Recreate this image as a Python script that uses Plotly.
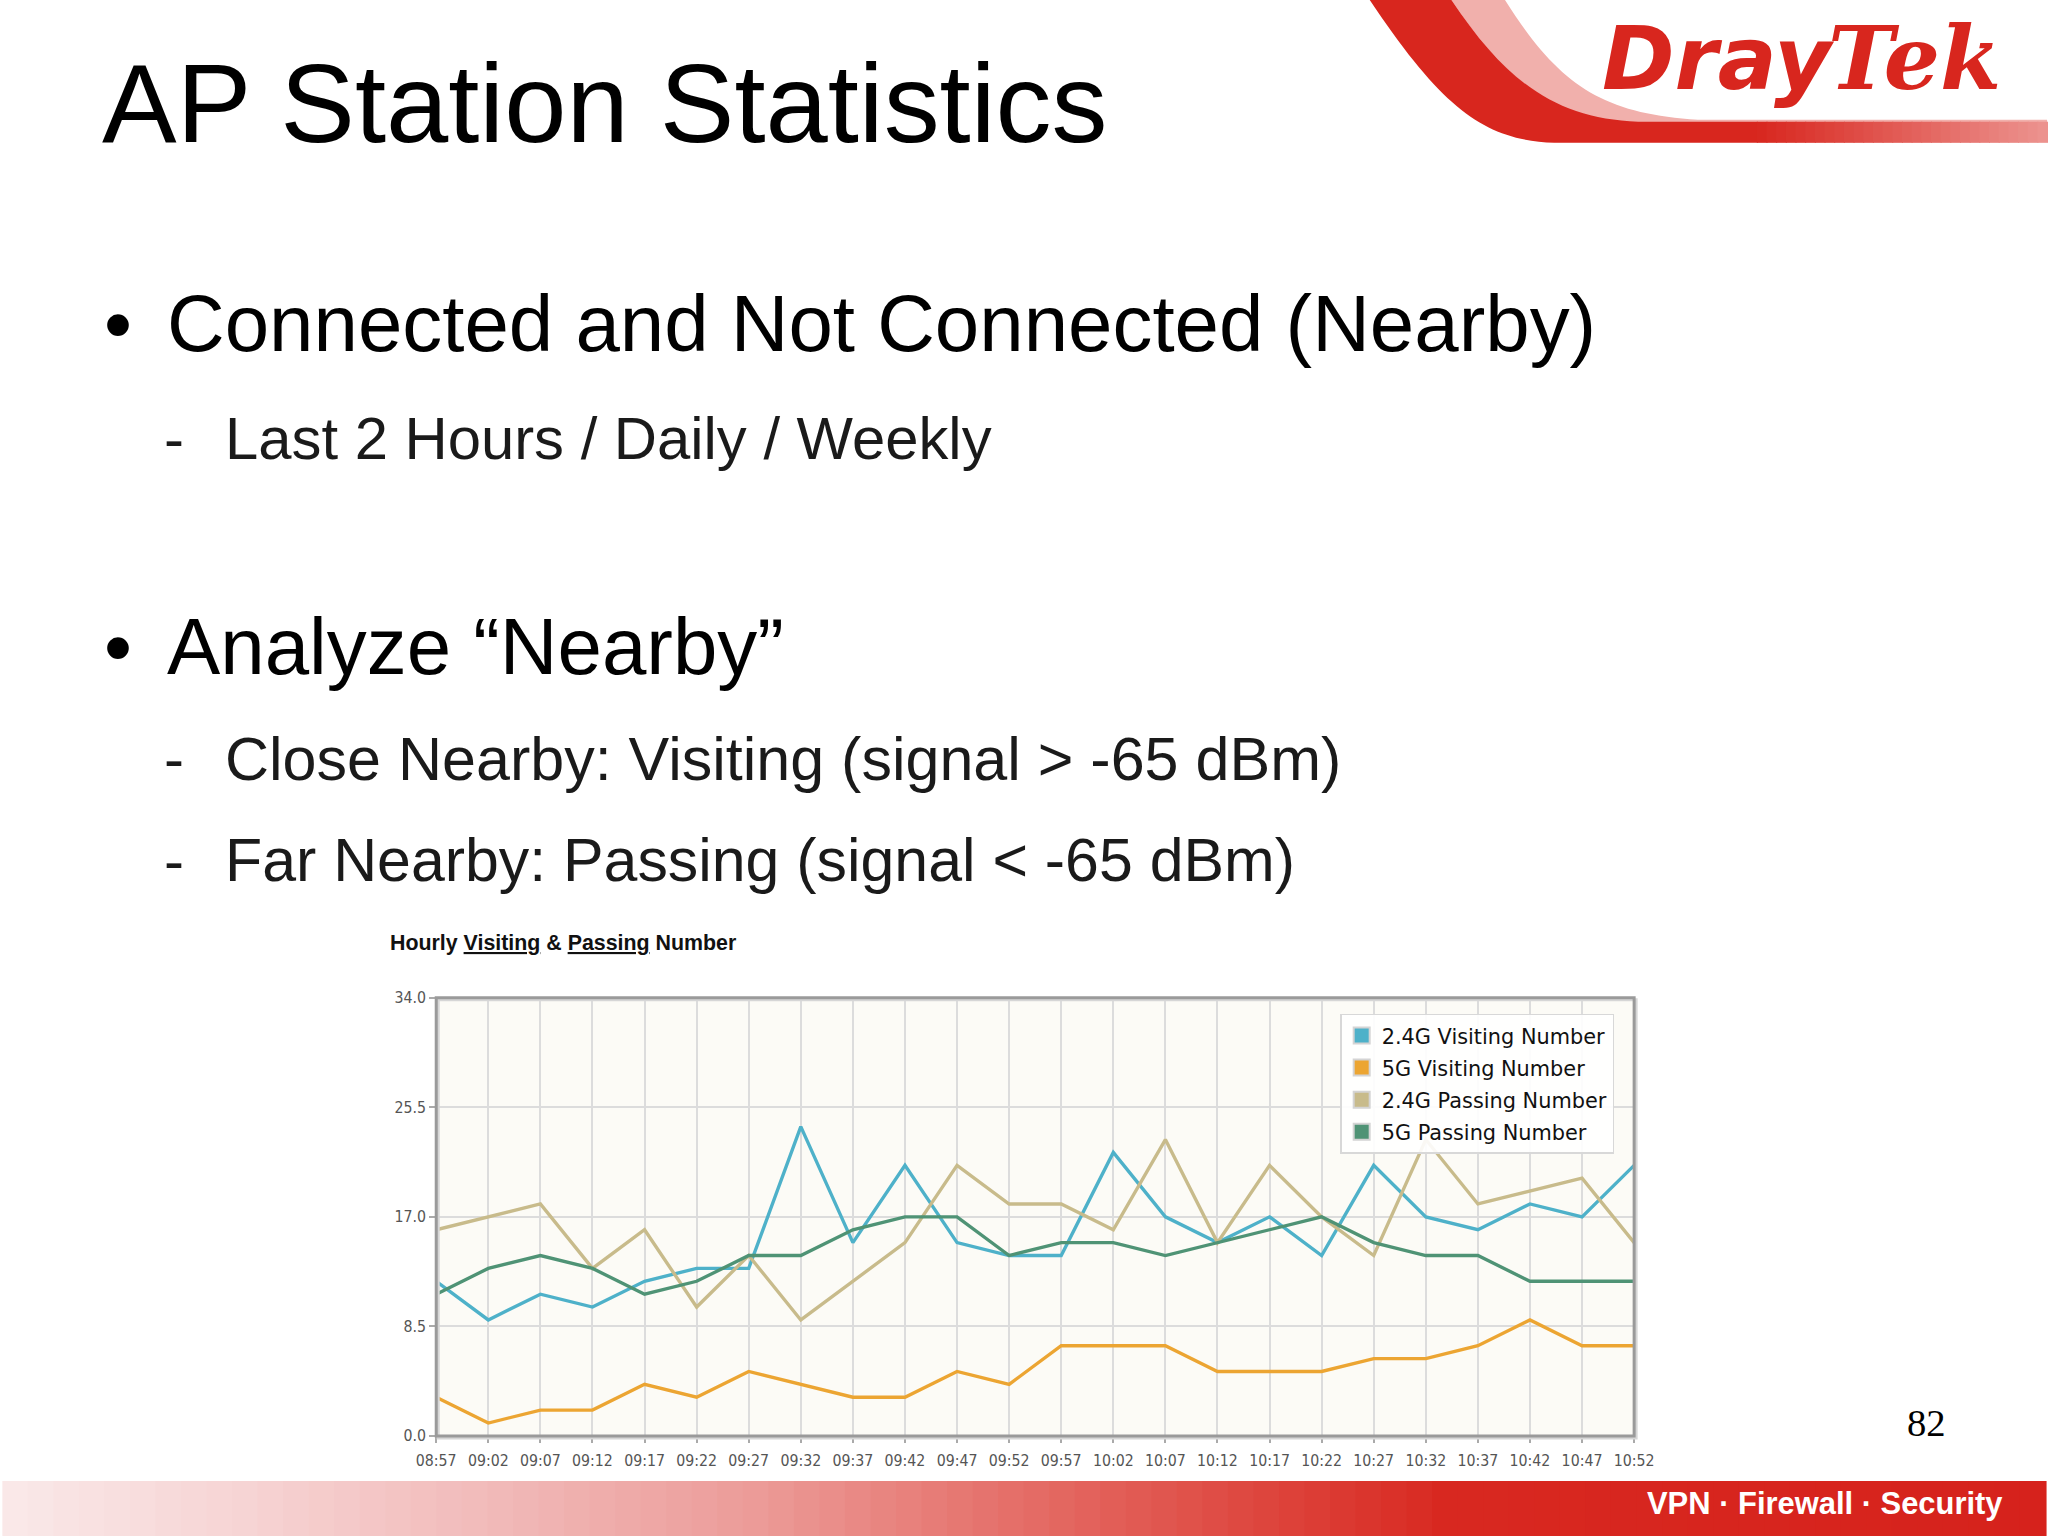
import plotly.graph_objects as go

# ---------------- data ----------------
times = ["08:57", "09:02", "09:07", "09:12", "09:17", "09:22", "09:27", "09:32",
         "09:37", "09:42", "09:47", "09:52", "09:57", "10:02", "10:07", "10:12",
         "10:17", "10:22", "10:27", "10:32", "10:37", "10:42", "10:47", "10:52"]
visit_24 = [12, 9, 11, 10, 12, 13, 13, 24, 15, 21, 15, 14, 14, 22, 17, 15, 17, 14, 21, 17, 16, 18, 17, 21]
visit_5 = [3, 1, 2, 2, 4, 3, 5, 4, 3, 3, 5, 4, 7, 7, 7, 5, 5, 5, 6, 6, 7, 9, 7, 7]
pass_24 = [16, 17, 18, 13, 16, 10, 14, 9, 12, 15, 21, 18, 18, 16, 23, 15, 21, 17, 14, 23, 18, 19, 20, 15]
pass_5 = [11, 13, 14, 13, 11, 12, 14, 14, 16, 17, 17, 14, 15, 15, 14, 15, 16, 17, 15, 14, 14, 12, 12, 12]
series_names = ["2.4G Visiting Number", "5G Visiting Number", "2.4G Passing Number", "5G Passing Number"]
series_colors = ["#4eb1c9", "#eca532", "#c8bb8b", "#4f9375"]
y_ticks = [0, 8.5, 17, 25.5, 34]

W, H = 2048, 1536
# the photographed page appears slightly inset/scaled; compensate so the picture lines up
S, OX, OY = 0.983, 17.7, 12.8


def px(x):
    return ((x - OX) / S) / W


def py(y):
    return 1 - ((y - OY) / S) / H


def sz(v):
    return v / S


def path(points_cmds):
    out = []
    for cmd, pts in points_cmds:
        if cmd == "Z":
            out.append("Z")
            continue
        coords = " ".join(f"{px(x):.5f},{py(y):.5f}" for x, y in pts)
        out.append(f"{cmd} {coords}")
    return " ".join(out)


def mix(c1, c2, t):
    return "rgb(%d,%d,%d)" % tuple(round(a + (b - a) * t) for a, b in zip(c1, c2))


fig = go.Figure()
for name, vals, col in zip(series_names, [visit_24, visit_5, pass_24, pass_5], series_colors):
    fig.add_trace(go.Scatter(x=times, y=vals, mode="lines", name=name,
                             line=dict(color=col, width=sz(3.3)), showlegend=False, hoverinfo="skip"))
for name, col in zip(series_names, series_colors):
    fig.add_trace(go.Scatter(x=[times[0]], y=[None], mode="markers", name=name, legendgroup=name,
                             marker=dict(symbol="square", size=sz(20), color=col,
                                         line=dict(color="#d4d4d4", width=2))))

shapes = []
# bottom gradient band
stops = [(0, (250, 233, 233)), (250, (246, 211, 211)), (500, (241, 185, 184)),
         (750, (236, 156, 153)), (1000, (229, 113, 107)), (1250, (222, 72, 64)),
         (1450, (216, 40, 32)), (2048, (214, 34, 28))]


def grad(x):
    for (t0, c0), (t1, c1) in zip(stops[:-1], stops[1:]):
        if t0 <= x <= t1:
            return mix(c0, c1, (x - t0) / (t1 - t0))
    return mix(stops[-1][1], stops[-1][1], 0)


n = 80
for i in range(n):
    x0 = 2048 * i / n
    x1 = 2048 * (i + 1) / n + 1.5
    shapes.append(dict(type="rect", xref="paper", yref="paper", x0=px(x0), x1=px(x1),
                       y0=py(1540), y1=py(1478), line=dict(width=0),
                       fillcolor=grad((x0 + x1) / 2), layer="below"))

# logo swoosh
red = (216, 38, 30)
shapes.append(dict(type="path", xref="paper", yref="paper", layer="below",
                   path=path([("M", [(1447, -5)]), ("L", [(1501, -5)]),
                              ("C", [(1556, 84), (1598, 117), (1700, 123)]),
                              ("L", [(2050, 123)]), ("L", [(2050, 130)]), ("L", [(1640, 130)]),
                              ("C", [(1556, 122), (1505, 84), (1447, -5)]), ("Z", [])]),
                   fillcolor="rgb(241,176,172)", line=dict(width=0)))
shapes.append(dict(type="path", xref="paper", yref="paper", layer="below",
                   path=path([("M", [(1365, -5)]), ("L", [(1447, -5)]),
                              ("C", [(1505, 84), (1556, 122), (1640, 125)]),
                              ("L", [(1760, 125)]), ("L", [(1760, 146)]), ("L", [(1556, 146)]),
                              ("C", [(1486, 143), (1444, 114), (1365, -5)]), ("Z", [])]),
                   fillcolor="rgb(216,38,30)", line=dict(width=0)))
m = 30
for i in range(m):
    x0 = 1759 + (2050 - 1759) * i / m
    x1 = 1759 + (2050 - 1759) * (i + 1) / m + 1
    shapes.append(dict(type="rect", xref="paper", yref="paper", layer="below",
                       x0=px(x0), x1=px(x1), y0=py(146), y1=py(125), line=dict(width=0),
                       fillcolor=mix(red, (236, 148, 144), (i + 0.5) / m)))

# chart frame
x_l, x_r, y_t, y_b = 435, 1636, 997, 1433
shapes.append(dict(type="rect", xref="paper", yref="paper", x0=px(x_l + 2), x1=px(x_r + 2),
                   y0=py(y_b + 2), y1=py(y_t + 2), line=dict(color="#d6d6d6", width=3), layer="above"))
shapes.append(dict(type="rect", xref="paper", yref="paper", x0=px(x_l), x1=px(x_r),
                   y0=py(y_b), y1=py(y_t), line=dict(color="#9a9a9a", width=3), layer="above"))

ann = []


def text(t, x, y, size, color="#000", family="Liberation Sans", anchor="left"):
    ann.append(dict(text=t, x=px(x), y=py(y), xref="paper", yref="paper", showarrow=False,
                    xanchor=anchor, yanchor="middle",
                    font=dict(family=family, size=sz(size), color=color)))


text("AP Station Statistics", 98, 107, 110)
text("•", 100, 327, 78.5)
text("Connected and Not Connected (Nearby)", 163, 326, 78.5)
text("-", 160, 440, 59, "#1a1a1a")
text("Last 2 Hours / Daily / Weekly", 221, 440, 58.8, "#1a1a1a")
text("•", 100, 648, 78.5)
text("Analyze “Nearby”", 163, 647, 78.5)
text("-", 160, 759, 59, "#1a1a1a")
text("Close Nearby: Visiting (signal &gt; -65 dBm)", 221, 759, 60, "#1a1a1a")
text("-", 160, 860, 59, "#1a1a1a")
text("Far Nearby: Passing (signal &lt; -65 dBm)", 221, 860, 59.8, "#1a1a1a")
text("<b>Hourly <u>Visiting</u> &amp; <u>Passing</u> Number</b>", 387, 942, 21, "#111")
text("82", 1929, 1420, 38, "#000", "Liberation Serif", "center")
text("<b>VPN · Firewall · Security</b>", 2008, 1500, 30.4, "#ffffff", "Liberation Sans", "right")
text("<b><i>Dray</i></b>", 1602, 63, 86, "rgb(216,38,30)", "DejaVu Sans")
text("<b><i>Tek</i></b>", 1828, 62, 87, "rgb(216,38,30)", "DejaVu Serif")

tickfont = dict(family="DejaVu Sans Condensed", size=sz(15.5), color="#555")
fig.update_layout(
    width=W, height=H, margin=dict(l=0, r=0, t=0, b=0, pad=0),
    paper_bgcolor="white", plot_bgcolor="#fcfbf6",
    showlegend=True,
    xaxis=dict(domain=[px(x_l), px(x_r)], type="category", categoryorder="array",
               categoryarray=times, range=[0, len(times) - 1],
               showgrid=True, gridcolor="#dcdcdc", gridwidth=1.5,
               ticks="outside", ticklen=6, tickwidth=1.5, tickcolor="#aaaaaa",
               ticklabelstandoff=4,
               tickfont=tickfont, showline=False, zeroline=False, fixedrange=True),
    yaxis=dict(domain=[py(y_b), py(y_t)], range=[0, 34], tickvals=y_ticks, tickformat=".1f",
               showgrid=True, gridcolor="#dcdcdc", gridwidth=1.5,
               ticks="outside", ticklen=6, tickwidth=1.5, tickcolor="#aaaaaa",
               tickfont=tickfont, showline=False, zeroline=False, fixedrange=True),
    legend=dict(x=px(1616), y=py(1013), xanchor="right", yanchor="top",
                bgcolor="rgba(255,255,255,0.9)", bordercolor="#d8d8d8", borderwidth=1.5,
                font=dict(family="DejaVu Sans", size=sz(20.5), color="#111"),
                itemwidth=30, tracegroupgap=2),
    shapes=shapes,
    annotations=ann,
)

fig.write_html("out.html", config={"displayModeBar": False},
               post_script="document.body.style.margin='0';")
